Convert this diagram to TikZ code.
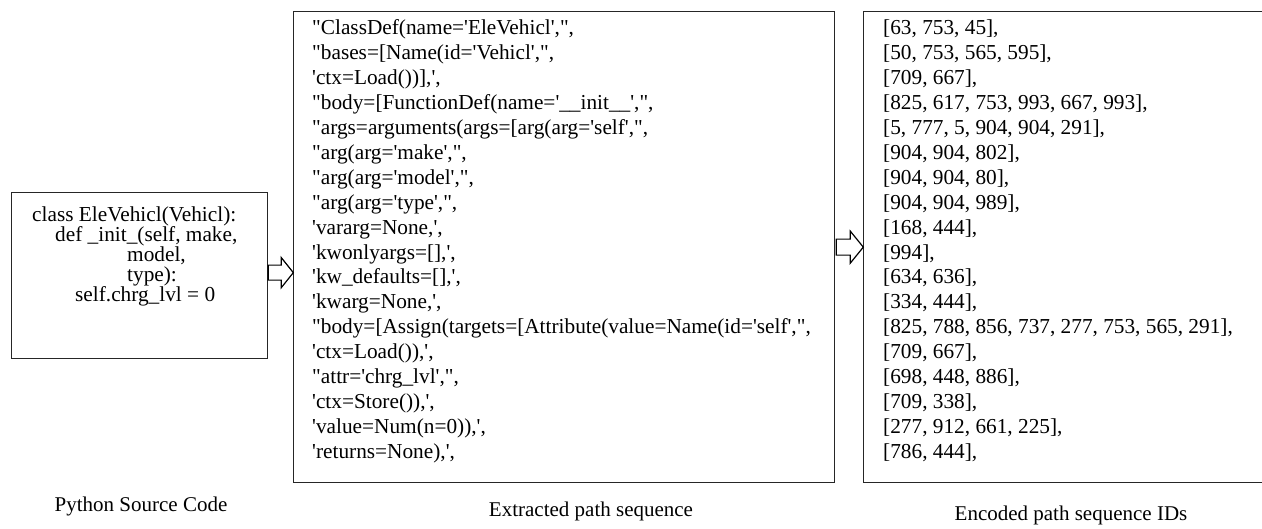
\documentclass[tikz,border=0pt]{standalone}
\usepackage{fontspec}
% plain family: keeps ' and " straight
\newfontfamily\tnr{Liberation Serif}
\usetikzlibrary{calc}
\begin{document}
\begin{tikzpicture}[x=1pt,y=-1pt,
  box/.style={draw=black!85, line width=1.3pt, inner sep=0pt, anchor=north west},
  codeline/.style={anchor=base west, inner sep=0pt, font=\tnr\fontsize{21.3}{25}\selectfont},
  caption/.style={anchor=base, inner sep=0pt, font=\tnr\fontsize{21}{25}\selectfont},
  hollow/.style={draw=black, line width=1.2pt, fill=white, line join=miter}]
\useasboundingbox (0,0) rectangle (1262,529);

% the three panels
\node[box, minimum width=256pt, minimum height=166pt] (srcbox) at (11,192) {};
\node[box, minimum width=541pt, minimum height=471pt] (pathbox) at (293,11) {};
\node[box, minimum width=405pt, minimum height=471pt] (idbox) at (863,11) {};

% source code
\node[codeline] (s1) at (32,222) {class EleVehicl(Vehicl):};
\node[codeline] (s2) at (55,242) {def \_init\_(self, make,};
\node[codeline] (s3) at (127,262) {model,};
\node[codeline] (s4) at (127,282) {type):};
\node[codeline] (s5) at (75,302) {self.chrg\_lvl = 0};

% extracted path sequence
\foreach \t [count=\i from 0] in {
  {"ClassDef(name='EleVehicl',",},
  {"bases=[Name(id='Vehicl',",},
  {'ctx=Load())],',},
  {"body=[FunctionDef(name='\_\_init\_\_',",},
  {"args=arguments(args=[arg(arg='self',",},
  {"arg(arg='make',",},
  {"arg(arg='model',",},
  {"arg(arg='type',",},
  {'vararg=None,',},
  {'kwonlyargs=[],',},
  {'kw\_defaults=[],',},
  {'kwarg=None,',},
  {"body=[Assign(targets=[Attribute(value=Name(id='self',",},
  {'ctx=Load()),',},
  {"attr='chrg\_lvl',",},
  {'ctx=Store()),',},
  {'value=Num(n=0)),',},
  {'returns=None),',}}
  \node[codeline] (p\i) at (312,35+24.9*\i) {\t};

% encoded path ids
\foreach \t [count=\i from 0] in {
  {[63, 753, 45],},
  {[50, 753, 565, 595],},
  {[709, 667],},
  {[825, 617, 753, 993, 667, 993],},
  {[5, 777, 5, 904, 904, 291],},
  {[904, 904, 802],},
  {[904, 904, 80],},
  {[904, 904, 989],},
  {[168, 444],},
  {[994],},
  {[634, 636],},
  {[334, 444],},
  {[825, 788, 856, 737, 277, 753, 565, 291],},
  {[709, 667],},
  {[698, 448, 886],},
  {[709, 338],},
  {[277, 912, 661, 225],},
  {[786, 444],}}
  \node[codeline] (e\i) at (883,35+24.9*\i) {\t};

% hollow block arrows between the panels
\coordinate (a1) at ($(srcbox.east)+(0,-3)$);
\draw[hollow] (a1) ++(0,-7.5) -- ++(13,0) -- ++(0,-7.5) -- ++(12,15)
  -- ++(-12,15) -- ++(0,-7.5) -- ++(-13,0) -- cycle;
\coordinate (a2) at ($(pathbox.east)+(1,0)$);
\draw[hollow] (a2) ++(0,-8) -- ++(14,0) -- ++(0,-8) -- ++(13,16)
  -- ++(-13,16) -- ++(0,-8) -- ++(-14,0) -- cycle;

% captions
\node[caption] (c1) at (141,511) {Python Source Code};
\node[caption] (c2) at (591,516) {Extracted path sequence};
\node[caption] (c3) at (1071,520) {Encoded path sequence IDs};
\end{tikzpicture}
\end{document}
